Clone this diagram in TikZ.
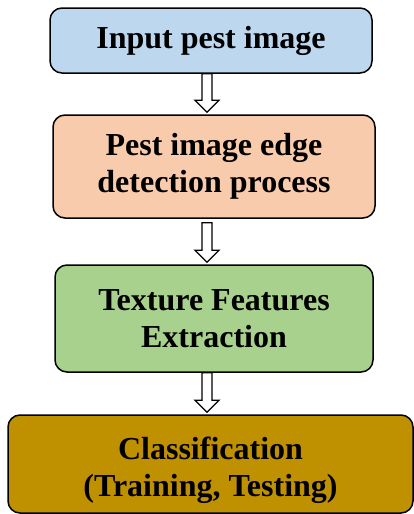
\documentclass[tikz,border=0pt]{standalone}
\usepackage{fontspec}
\setmainfont{Liberation Serif}
\usetikzlibrary{calc}
\definecolor{boxblue}{HTML}{BDD7EE}
\definecolor{boxpeach}{HTML}{F8CBAD}
\definecolor{boxgreen}{HTML}{A9D18E}
\definecolor{boxgold}{HTML}{BF9000}
\tikzset{
  stage/.style={draw=black, line width=1.5pt, rounded corners=12pt,
    inner sep=0pt, align=center,
    font=\bfseries\fontsize{32}{37}\selectfont},
  hollow/.style={draw=black, fill=white, line width=1.3pt, line join=miter}
}
% hollow block arrow on the common axis, from the bottom of one node to the top of the next
\newcommand{\blockarrow}[3]{%
  \draw[hollow]
    ($(#1.south -| axis)+(-5,#3)$) -- ($(#2.north -| axis)+(-5,-14)$) -- ($(#2.north -| axis)+(-12,-14)$)
    -- ($(#2.north -| axis)+(0,-2)$) -- ($(#2.north -| axis)+(12,-14)$) -- ($(#2.north -| axis)+(5,-14)$)
    -- ($(#1.south -| axis)+(5,#3)$) -- cycle;}
\begin{document}
\begin{tikzpicture}[x=1pt,y=-1pt]
  \useasboundingbox (0,0) rectangle (414,514);
  \coordinate (axis) at (207,0);
  \node[stage, fill=boxblue, minimum width=322pt, minimum height=65pt] (input) at (211,40.5) {Input pest image};
  \node[stage, fill=boxpeach, minimum width=322pt, minimum height=103pt] (edge) at (214,166.5) {Pest image edge\\detection process};
  \node[stage, fill=boxgreen, minimum width=318pt, minimum height=107pt] (texture) at (214,318.5) {Texture Features\\Extraction};
  % the strut on the first line sets the text a little below the middle of the box
  \node[stage, fill=boxgold, minimum width=405pt, minimum height=98pt] (classify) at (210.5,464) {\rule{0pt}{36pt}Classification\\(Training, Testing)};
  \blockarrow{input}{edge}{0}
  \blockarrow{edge}{texture}{4}
  \blockarrow{texture}{classify}{0}
\end{tikzpicture}
\end{document}
